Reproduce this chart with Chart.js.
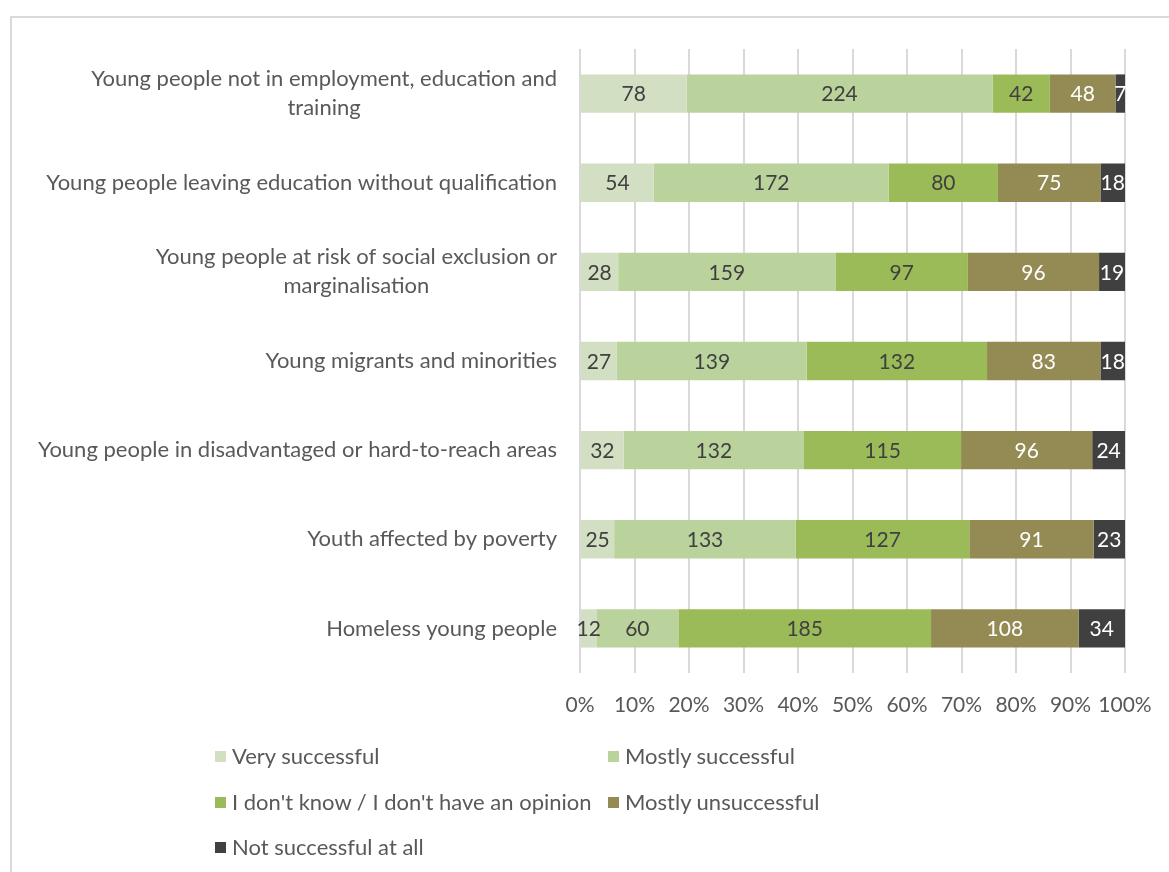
<!DOCTYPE html>
<html>
<head>
<meta charset="utf-8">
<script src="https://cdn.jsdelivr.net/npm/chart.js@4"></script>
<style>
  html, body { margin: 0; padding: 0; background: #fff; overflow: hidden; }
  #wrap { position: relative; width: 1169px; height: 872px; }
  #frame { position: absolute; left: 10px; top: 16px; width: 1200px; height: 900px; border: 2px solid #d9d9d9; box-sizing: border-box; }
  #chart { position: absolute; left: 0; top: 0; }
  .legend-item { position: absolute; font-family: Lato, sans-serif; font-size: 22px; color: #595959; white-space: nowrap; line-height: 26px; }
  .legend-item span.box { display: inline-block; width: 11px; height: 11px; margin-right: 6px; vertical-align: 2px; }
</style>
</head>
<body>
<div id="wrap">
  <div id="frame"></div>
  <canvas id="chart" width="1169" height="872"></canvas>
  <div id="legend"></div>
</div>
<script>
// Categories (each entry split into the lines it is drawn on)
const categories = [
    ['Young people not in employment, education and', 'training'],
    ['Young people leaving education without qualification'],
    ['Young people at risk of social exclusion or', 'marginalisation'],
    ['Young migrants and minorities'],
    ['Young people in disadvantaged or hard-to-reach areas'],
    ['Youth affected by poverty'],
    ['Homeless young people']
];

const seriesNames = [
    'Very successful',
    'Mostly successful',
    "I don't know / I don't have an opinion",
    'Mostly unsuccessful',
    'Not successful at all'
];

// Answer counts per category
const verySuccessful     = [78, 54, 28, 27, 32, 25, 12];
const mostlySuccessful   = [224, 172, 159, 139, 132, 133, 60];
const dontKnow           = [42, 80, 97, 132, 115, 127, 185];
const mostlyUnsuccessful = [48, 75, 96, 83, 96, 91, 108];
const notSuccessful      = [7, 18, 19, 18, 24, 23, 34];

const seriesColors = ['#d3dfc2', '#bad29b', '#9bbb59', '#948a54', '#404040'];
const labelColors  = ['#404040', '#404040', '#404040', '#ffffff', '#ffffff'];

const FONT = 'Lato, sans-serif';
const TEXT = '#595959';

const counts = [verySuccessful, mostlySuccessful, dontKnow, mostlyUnsuccessful, notSuccessful];
const totals = categories.map((c, i) => counts.reduce((s, arr) => s + arr[i], 0));

// 100% stacked: each segment is its share of the row total
const datasets = counts.map((arr, k) => ({
    label: seriesNames[k],
    data: arr.map((v, i) => v / totals[i] * 100),
    raw: arr,
    backgroundColor: seriesColors[k],
    borderWidth: 0,
    categoryPercentage: 1,
    barPercentage: 0.43
}));

// Count labels in the middle of each segment
const segmentLabels = {
    id: 'segmentLabels',
    afterDatasetsDraw(chart) {
        const ctx = chart.ctx;
        ctx.save();
        ctx.font = '21px ' + FONT;
        ctx.textAlign = 'center';
        ctx.textBaseline = 'middle';
        chart.data.datasets.forEach((ds, k) => {
            chart.getDatasetMeta(k).data.forEach((bar, i) => {
                const cx = (bar.x + bar.base) / 2;
                ctx.fillStyle = labelColors[k];
                ctx.fillText(String(ds.raw[i]), cx, bar.y + 1);
            });
        });
        ctx.restore();
    }
};

// Category labels: block right-aligned to the axis, lines centred on each other
const categoryLabels = {
    id: 'categoryLabels',
    afterDraw(chart) {
        const ctx = chart.ctx;
        const yScale = chart.scales.y;
        const right = chart.chartArea.left - 23;
        ctx.save();
        ctx.font = '22px ' + FONT;
        ctx.fillStyle = TEXT;
        ctx.textAlign = 'center';
        ctx.textBaseline = 'middle';
        categories.forEach((lines, i) => {
            const y = yScale.getPixelForValue(i);
            const w = Math.max(...lines.map(l => ctx.measureText(l).width));
            const cx = right - w / 2;
            const lh = 29;
            const y0 = y - (lines.length - 1) * lh / 2;
            lines.forEach((l, j) => ctx.fillText(l, cx, y0 + j * lh));
        });
        ctx.restore();
    }
};

const chart = new Chart(document.getElementById('chart').getContext('2d'), {
    type: 'bar',
    data: {
        labels: categories.map(l => l.join(' ')),
        datasets: datasets
    },
    options: {
        indexAxis: 'y',
        responsive: false,
        animation: false,
        layout: {
            padding: { left: 10, right: 44, top: 49, bottom: 139 }
        },
        plugins: {
            legend: { display: false },
            tooltip: { enabled: false }
        },
        scales: {
            x: {
                stacked: true,
                min: 0,
                max: 100,
                afterFit: s => { s.height = 60; s.paddingRight = 0; s.paddingLeft = 0; },
                ticks: {
                    stepSize: 10,
                    padding: 20,
                    maxRotation: 0,
                    minRotation: 0,
                    autoSkip: false,
                    color: TEXT,
                    font: { family: FONT, size: 21 },
                    callback: v => v + '%'
                },
                grid: { color: '#d9d9d9', lineWidth: 2, drawTicks: false },
                border: { display: false }
            },
            y: {
                stacked: true,
                afterFit: s => { s.width = 570; },
                ticks: { display: false },
                grid: { display: false },
                border: { display: false }
            }
        }
    },
    plugins: [segmentLabels, categoryLabels]
});

// Legend in two columns under the chart
const legendPos = [[215, 756], [608, 756], [215, 802], [608, 802], [215, 847]];
const legend = document.getElementById('legend');
seriesNames.forEach((name, k) => {
    const item = document.createElement('div');
    item.className = 'legend-item';
    item.style.left = legendPos[k][0] + 'px';
    item.style.top = (legendPos[k][1] - 13) + 'px';
    item.innerHTML = '<span class="box" style="background:' + seriesColors[k] + '"></span>' + name;
    legend.appendChild(item);
});
</script>
</body>
</html>
